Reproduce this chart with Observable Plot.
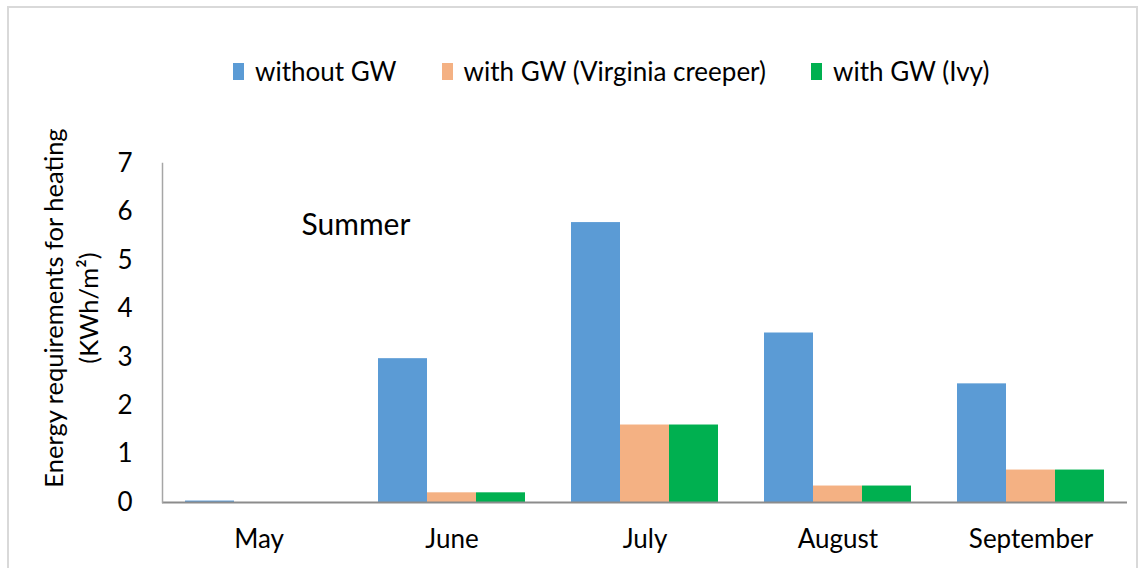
<!DOCTYPE html>
<html>
<head>
<meta charset="utf-8">
<script src="https://cdn.jsdelivr.net/npm/d3@7"></script>
<script src="https://cdn.jsdelivr.net/npm/@observablehq/plot@0.6"></script>
<style>
  html, body { margin: 0; padding: 0; background: #fff; }
  body { width: 1144px; height: 568px; position: relative; overflow: hidden; font-family: Lato, sans-serif; color: #000; }
  #border { position: absolute; left: 7px; top: 6px; width: 1131px; height: 620px; border: 2px solid #d9d9d9; box-sizing: border-box; }
  #legend { position: absolute; left: 233px; top: 55px; display: flex; align-items: center; font-size: 26px; white-space: nowrap; }
  .item { display: flex; align-items: center; margin-right: 45px; }
  .sw { width: 11px; height: 17px; margin-right: 11px; }
  #chart { position: absolute; left: 0; top: 100px; }
</style>
</head>
<body>
<div id="border"></div>
<div id="legend"></div>
<div id="chart"></div>
<script>
const months = ["May", "June", "July", "August", "September"];
const series = ["without GW", "with GW (Virginia creeper)", "with GW (Ivy)"];
const withoutGW = [0.03, 2.97, 5.78, 3.50, 2.45];
const virginiaCreeper = [0, 0.20, 1.60, 0.34, 0.67];
const ivy = [0, 0.20, 1.60, 0.34, 0.67];
const colors = ["#5B9BD5", "#F4B183", "#00B050"];
const yTicks = [0, 1, 2, 3, 4, 5, 6, 7];
const yTitle = "Energy requirements for heating\n(KWh/m²)";
const annotation = "Summer";

const seriesValues = [withoutGW, virginiaCreeper, ivy];
const data = months.flatMap((m, i) => series.map((s, j) => ({month: m, series: s, value: seriesValues[j][i]})));

// legend
const legend = document.getElementById("legend");
series.forEach((s, j) => {
  const it = document.createElement("div");
  it.className = "item";
  const sw = document.createElement("div");
  sw.className = "sw";
  sw.style.background = colors[j];
  const t = document.createElement("span");
  t.textContent = s;
  it.appendChild(sw); it.appendChild(t);
  legend.appendChild(it);
});

const chart = Plot.plot({
  width: 1144,
  height: 468,
  marginLeft: 161,
  marginRight: 17,
  marginTop: 63,
  marginBottom: 66,
  style: {fontFamily: "Lato, sans-serif", color: "#000", background: "transparent"},
  fx: {domain: months, paddingInner: 0.23, paddingOuter: 0.115, label: null},
  x: {domain: series, padding: 0, axis: null},
  y: {domain: [0, 7], label: null},
  color: {domain: series, range: colors},
  marks: [
    Plot.barY(data, {fx: "month", x: "series", y: "value", fill: "series"}),
    Plot.ruleY([0], {stroke: "#8c8c8c", strokeWidth: 2, insetLeft: -22, insetRight: -22}),
    Plot.frame({anchor: "left", facet: "super", stroke: "#a6a6a6", strokeWidth: 1.5, dx: -22}),
    Plot.axisY(yTicks, {tickSize: 0, tickPadding: 52, fontSize: 26, label: null}),
    Plot.axisFx({anchor: "bottom", tickSize: 0, tickPadding: 27, fontSize: 26, label: null}),
    Plot.text([yTitle], {facet: "super", frameAnchor: "left", rotate: -90, dx: -115, dy: -25, fontSize: 25.5, lineHeight: 1.35, textAnchor: "middle", lineAnchor: "middle", fill: "#000"}),
    Plot.text([annotation], {facet: "super", frameAnchor: "top-left", textAnchor: "start", lineAnchor: "middle", dx: 117, dy: 62, fontSize: 30, fill: "#000"})
  ]
});
document.getElementById("chart").appendChild(chart);
</script>
</body>
</html>
